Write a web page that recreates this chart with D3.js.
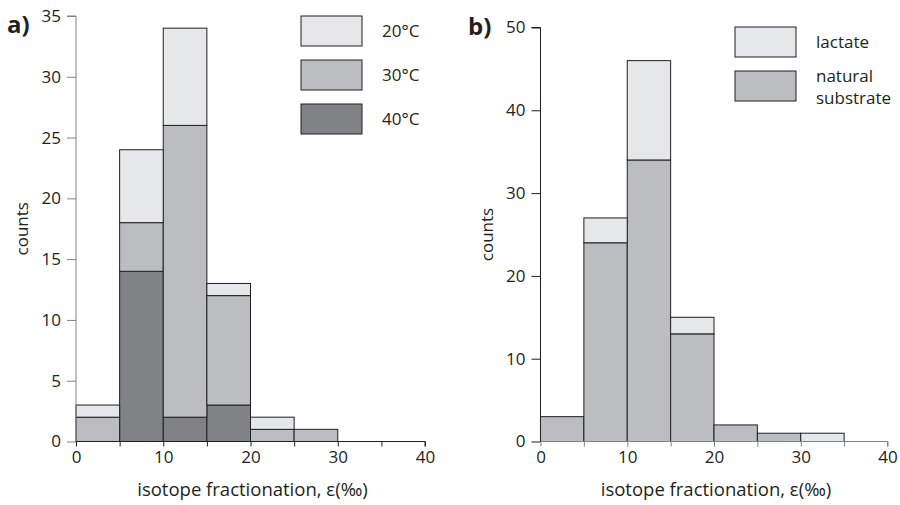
<!DOCTYPE html>
<html><head><meta charset="utf-8">
<script src="https://cdn.jsdelivr.net/npm/d3@7"></script>
<style>body{margin:0;background:#fff}svg{display:block}text{font-family:"Open Sans",sans-serif;fill:#231f20}</style>
</head><body><svg id="c" width="900" height="505"></svg>
<script>
// bins (isotope fractionation, ‰)
const binStarts = [0, 5, 10, 15, 20, 25, 30];
const binWidth = 5;
// panel a: counts per temperature
const t40 = [0, 14, 2, 3, 0, 0, 0];
const t30 = [2, 4, 24, 9, 1, 1, 0];
const t20 = [1, 6, 8, 1, 1, 0, 0];
// panel b: counts per substrate
const natural = [3, 24, 34, 13, 2, 1, 0];
const lactate = [0, 3, 12, 2, 0, 0, 1];
const xTicks = [0, 10, 20, 30, 40];
const xMinorTicks = [0, 5, 10, 15, 20, 25, 30, 35, 40];
const yTicksA = [0, 5, 10, 15, 20, 25, 30, 35];
const yTicksB = [0, 10, 20, 30, 40, 50];
const legendA = ["20°C", "30°C", "40°C"];
const legendB = [["lactate"], ["natural", "substrate"]];

const C_LIGHT = "#e6e7e8", C_MID = "#bcbdc0", C_DARK = "#808285", C_STROKE = "#231f20", C_AX = "#808285";
const FS = "17px";
const svg = d3.select("#c");

function panel(o) {
  const g = svg.append("g");
  const x = d3.scaleLinear().domain([0, 40]).range([o.x0, o.x1]);
  const y = d3.scaleLinear().domain([0, o.ymax]).range([o.y0, o.y1]);
  // bars
  o.series.forEach(s => {
    binStarts.forEach((b, i) => {
      const base = s.base[i], v = s.vals[i];
      if (v <= 0) return;
      g.append("rect")
        .attr("x", x(b)).attr("width", x(b + binWidth) - x(b))
        .attr("y", y(base + v)).attr("height", y(base) - y(base + v))
        .attr("fill", s.color).attr("stroke", C_STROKE).attr("stroke-width", 1);
    });
  });
  // y axis
  const ya = g.append("g").attr("transform", `translate(${o.x0},0)`)
    .call(d3.axisLeft(y).tickValues(o.yTicks).tickSize(9).tickPadding(6).tickFormat(d3.format("d")));
  ya.select(".domain").attr("stroke", o.yColor).attr("d", `M-9,${o.y1}H0V${o.y0}`);
  ya.selectAll(".tick line").attr("stroke", o.yColor);
  ya.selectAll("text").style("font-size", FS).attr("fill", "#231f20").style("font-family", "Open Sans");
  // x axis
  const xa = g.append("g").attr("transform", `translate(0,${o.y0})`)
    .call(d3.axisBottom(x).tickValues(xMinorTicks).tickSize(5).tickPadding(4)
      .tickFormat(d => xTicks.includes(d) ? d : ""));
  xa.select(".domain").attr("stroke", o.xColor).attr("d", `M${o.x0},0H${o.x1}V5`);
  xa.selectAll(".tick line").attr("stroke", o.xColor);
  xa.selectAll("text").style("font-size", FS).attr("fill", "#231f20").style("font-family", "Open Sans");
  // labels
  g.append("text").attr("x", (o.x0 + o.x1) / 2 + 2).attr("y", 496).attr("text-anchor", "middle")
    .style("font-size", "18.5px").text("isotope fractionation, ε(‰)");
  g.append("text").attr("transform", `translate(${o.x0 - 48},${(o.y0 + o.y1) / 2}) rotate(-90)`)
    .attr("text-anchor", "middle").style("font-size", FS).text("counts");
  g.append("text").attr("x", o.lx).attr("y", o.ly).style("font-size", "24px").style("font-weight", "bold").text(o.letter);
  // legend
  o.legend.forEach((l, i) => {
    const top = o.legY + i * o.legStep;
    g.append("rect").attr("x", o.legX).attr("y", top).attr("width", 61).attr("height", 30)
      .attr("fill", l.color).attr("stroke", C_STROKE).attr("stroke-width", 1);
    l.lines.forEach((t, j) => {
      g.append("text").attr("x", o.legX + 81).attr("y", top + 15 + j * 22 + (l.lines.length > 1 ? -10 : 0))
        .attr("dy", "0.35em").style("font-size", FS).text(t);
    });
  });
}

const cum = (...arrs) => binStarts.map((_, i) => arrs.reduce((s, a) => s + a[i], 0));
const zero = binStarts.map(() => 0);

panel({
  x0: 76, x1: 425, y0: 441.5, y1: 16, ymax: 35, yTicks: yTicksA, yColor: C_AX, xColor: C_STROKE,
  series: [
    { vals: t40, base: zero, color: C_DARK },
    { vals: t30, base: cum(t40), color: C_MID },
    { vals: t20, base: cum(t40, t30), color: C_LIGHT }
  ],
  lx: 7, ly: 33, letter: "a)",
  legX: 301, legY: 16, legStep: 44,
  legend: [{ color: C_LIGHT, lines: [legendA[0]] }, { color: C_MID, lines: [legendA[1]] }, { color: C_DARK, lines: [legendA[2]] }]
});
panel({
  x0: 540.5, x1: 887.5, y0: 441.5, y1: 27.5, ymax: 50, yTicks: yTicksB, yColor: C_STROKE, xColor: C_AX,
  series: [
    { vals: natural, base: zero, color: C_MID },
    { vals: lactate, base: cum(natural), color: C_LIGHT }
  ],
  lx: 468, ly: 35, letter: "b)",
  legX: 735, legY: 27, legStep: 44,
  legend: [{ color: C_LIGHT, lines: legendB[0] }, { color: C_MID, lines: legendB[1] }]
});
</script></body></html>
